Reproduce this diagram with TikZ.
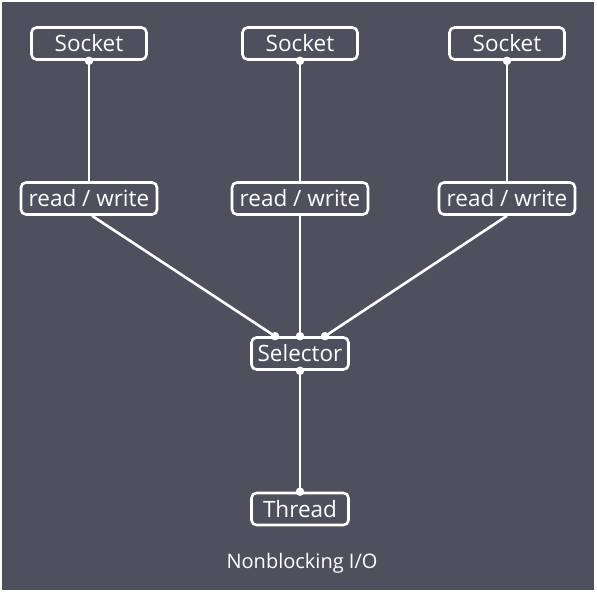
\documentclass[tikz,border=0pt]{standalone}
\usepackage{fontspec}
\setmainfont{Open Sans}
\usetikzlibrary{positioning}
\definecolor{bgdark}{HTML}{4F505D}

\begin{document}
\begin{tikzpicture}[x=1pt,y=-1pt,
  box/.style={draw=white, fill=bgdark, line width=2.6pt, rounded corners=5pt, text=white, inner sep=0pt, minimum height=32pt, font=\fontsize{22.5}{26}\selectfont},
  link/.style={white, line width=2.6pt},
  dot/.style={circle, fill=white, inner sep=0pt, minimum size=8.5pt}]
\useasboundingbox (0,0) rectangle (597,593);
\fill[white] (0,0) rectangle (597,593);
\fill[bgdark] (2,2) rectangle (594,590);
% sockets
\node[box, minimum width=115pt] (sock1) at (89,43.5) {Socket};
\node[box, minimum width=115pt] (sock2) at (300,43.5) {Socket};
\node[box, minimum width=115pt] (sock3) at (507,43.5) {Socket};
% read / write
\node[box, minimum width=136pt] (rw1) at (89,198.5) {read / write};
\node[box, minimum width=136pt] (rw2) at (300,198.5) {read / write};
\node[box, minimum width=136pt] (rw3) at (507,198.5) {read / write};
% selector and thread
\node[box, minimum width=97pt] (sel) at (300,353.5) {Selector};
\node[box, minimum width=97pt] (thr) at (300,509) {Thread};
\node[text=white, font=\fontsize{20}{24}\selectfont] (cap) at (302,563) {Nonblocking I/O};
\path (sel.north) ++(-25,0) coordinate (selL) ++(50,0) coordinate (selR);
\draw[link] (sock1.south) -- (rw1.north);
\draw[link] (sock2.south) -- (rw2.north);
\draw[link] (sock3.south) -- (rw3.north);
\draw[link] (rw1.south) ++(3,0) coordinate (rw1b) -- (selL);
\draw[link] (rw2.south) -- (sel.north);
\draw[link] (rw3.south) -- (selR);
\draw[link] (sel.south) -- (thr.north);
% dots
\foreach \p in {sock1.south,sock2.south,sock3.south,selL,sel.north,selR,sel.south,thr.north}
  \node[dot] at (\p) {};
\end{tikzpicture}
\end{document}
